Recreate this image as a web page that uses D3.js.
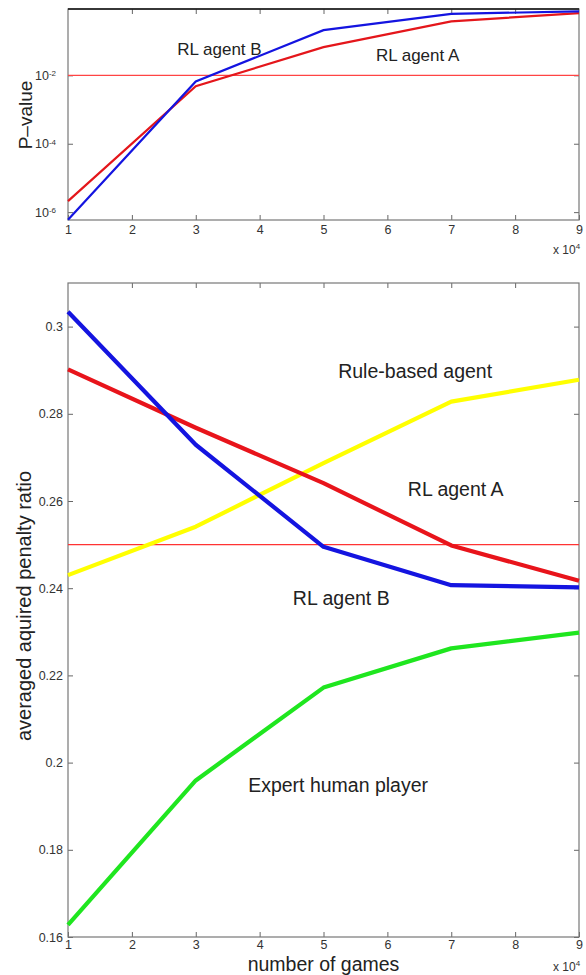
<!DOCTYPE html>
<html>
  <head>
    <meta charset="UTF-8">
    <title>P-value and penalty ratio</title>
    <style>
    body {
      margin: 0;
      background: #fff;
    }
    svg {
      display: block;
      font-family: "Liberation Sans", Arial, sans-serif;
    }
    .tick text {
      fill: #333;
      font-size: 12.5px;
    }
    .tick line {
      stroke: #666;
    }
    .box {
      fill: none;
      stroke: #777;
      stroke-width: 1.2px;
    }
    .note {
      fill: #222;
    }
    </style>
  </head>
  <body>
    <svg width="586" height="975"></svg>
    <script src="https://cdn.jsdelivr.net/npm/d3@7"></script>
    <script>
// x values (in units of 10^4 games)
var games = [1, 3, 5, 7, 9];
var xTicks = [1, 2, 3, 4, 5, 6, 7, 8, 9];

// top panel: p-values
var pvalA = [2.1e-6, 4.8e-3, 0.067, 0.38, 0.66];
var pvalB = [6e-7, 6.6e-3, 0.21, 0.63, 0.74];
var pThreshold = 0.01;
var pTicks = [1e-6, 1e-4, 1e-2];

// bottom panel: averaged aquired penalty ratio
var ratioA = [0.2902, 0.2768, 0.2641, 0.2498, 0.2417];
var ratioB = [0.3034, 0.2729, 0.2495, 0.2407, 0.2402];
var ratioRule = [0.2430, 0.2541, 0.2687, 0.2828, 0.2878];
var ratioHuman = [0.1628, 0.1959, 0.2172, 0.2262, 0.2298];
var ratioThreshold = 0.25;
var ratioTicks = [0.16, 0.18, 0.2, 0.22, 0.24, 0.26, 0.28, 0.3];

var svg = d3.select("svg");

var left = 68, right = 579;

// ****************** top panel ***************************
var x = d3.scaleLinear().domain([1, 9]).range([left, right]);
var yTop = d3.scaleLog().domain([Math.pow(10, -6.23), Math.pow(10, -0.06)]).range([220, 9]);

function frame(y, y0, y1, yTickVals, yPad, yFormat, xPad) {
  var g = svg.append("g");
  g.append("g")
      .attr("transform", "translate(0," + y0 + ")")
      .call(d3.axisBottom(x).tickValues(xTicks).tickSizeInner(-5).tickSizeOuter(0).tickPadding(xPad))
      .call(a => a.select(".domain").remove());
  g.append("g")
      .attr("transform", "translate(0," + y1 + ")")
      .call(d3.axisTop(x).tickValues(xTicks.slice(1, -1)).tickSizeInner(-5).tickSizeOuter(0).tickFormat(""))
      .call(a => a.select(".domain").remove());
  g.append("g")
      .attr("class", "yaxis")
      .attr("transform", "translate(" + left + ",0)")
      .call(d3.axisLeft(y).tickValues(yTickVals).tickSizeInner(-5).tickSizeOuter(0).tickPadding(yPad).tickFormat(yFormat))
      .call(a => a.select(".domain").remove());
  g.append("g")
      .attr("transform", "translate(" + right + ",0)")
      .call(d3.axisRight(y).tickValues(yTickVals).tickSizeInner(-5).tickSizeOuter(0).tickFormat(""))
      .call(a => a.select(".domain").remove());
  g.append("rect")
      .attr("class", "box")
      .attr("x", left)
      .attr("y", y1)
      .attr("width", right - left)
      .attr("height", y0 - y1);
  // "x 10^4" multiplier
  var m = g.append("text")
      .attr("x", 553)
      .attr("y", y0 + 34)
      .attr("fill", "#333")
      .style("font-size", "12px")
      .text("x 10");
  m.append("tspan").attr("dy", -5).style("font-size", "8px").text("4");
  return g;
}

var topFrame = frame(yTop, 220, 9, pTicks, 12, d => "", 5);
// superscript tick labels for the log axis
topFrame.selectAll(".yaxis .tick text").each(function(d) {
  var t = d3.select(this);
  t.text("10");
  t.append("tspan").attr("dy", "-0.45em").style("font-size", "8px").text("-" + Math.round(-Math.log10(d)));
});
topFrame.append("line")
    .attr("x1", left).attr("x2", right)
    .attr("y1", 9).attr("y2", 9)
    .attr("stroke", "#111")
    .attr("stroke-width", 1.5);

svg.append("line")
    .attr("x1", x(1)).attr("x2", x(9))
    .attr("y1", yTop(pThreshold)).attr("y2", yTop(pThreshold))
    .attr("stroke", "#f44")
    .attr("stroke-width", 1.2);

var lineTop = d3.line().x((d, i) => x(games[i])).y(d => yTop(d));
[[pvalA, "#e4161b"], [pvalB, "#1414e0"]].forEach(s => {
  svg.append("path")
      .attr("d", lineTop(s[0]))
      .attr("fill", "none")
      .attr("stroke", s[1])
      .attr("stroke-width", 2.2);
});

svg.append("text").attr("class", "note")
    .attr("x", x(2.71)).attr("y", yTop(0.0384))
    .style("font-size", "17px")
    .text("RL agent B");
svg.append("text").attr("class", "note")
    .attr("x", x(5.82)).attr("y", yTop(0.0257))
    .style("font-size", "17px")
    .text("RL agent A");

svg.append("text")
    .attr("transform", "translate(32,115) rotate(-90)")
    .attr("text-anchor", "middle")
    .attr("fill", "#222")
    .style("font-size", "19px")
    .text("P\u2013value");

// ****************** bottom panel ***************************
var yBot = d3.scaleLinear().domain([0.16, 0.31]).range([937, 283]);

frame(yBot, 937, 283, ratioTicks, 5, d => String(d), 3);

svg.append("line")
    .attr("x1", x(1)).attr("x2", x(9))
    .attr("y1", yBot(ratioThreshold)).attr("y2", yBot(ratioThreshold))
    .attr("stroke", "#f33")
    .attr("stroke-width", 1.2);

var lineBot = d3.line().x((d, i) => x(games[i])).y(d => yBot(d));
[[ratioRule, "#ffff00"], [ratioHuman, "#1fe61f"], [ratioA, "#e8141b"], [ratioB, "#1414e0"]].forEach(s => {
  svg.append("path")
      .attr("d", lineBot(s[0]))
      .attr("fill", "none")
      .attr("stroke", s[1])
      .attr("stroke-width", 4.2)
      .attr("stroke-linejoin", "round");
});

var notes = [
  ["Rule-based agent", 5.23, 0.2882],
  ["RL agent A", 6.32, 0.2612],
  ["RL agent B", 4.52, 0.2362],
  ["Expert human player", 3.82, 0.1933]
];
notes.forEach(n => {
  svg.append("text").attr("class", "note")
      .attr("x", x(n[1])).attr("y", yBot(n[2]))
      .style("font-size", "19.5px")
      .text(n[0]);
});

svg.append("text")
    .attr("transform", "translate(31,606) rotate(-90)")
    .attr("text-anchor", "middle")
    .attr("fill", "#222")
    .style("font-size", "20px")
    .text("averaged aquired penalty ratio");

svg.append("text")
    .attr("x", x(5)).attr("y", 971)
    .attr("text-anchor", "middle")
    .attr("fill", "#222")
    .style("font-size", "19.5px")
    .text("number of games");
    </script>
  </body>
</html>
